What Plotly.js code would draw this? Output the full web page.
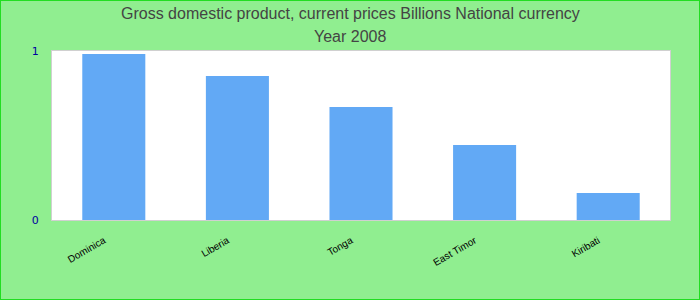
<!DOCTYPE html>
<html>
<head>
<meta charset="utf-8">
<script src="https://cdn.plot.ly/plotly-3.0.1.min.js"></script>
<style>
html,body{margin:0;padding:0;background:#90EE90;}
#chart{width:698px;height:298px;border:1px solid #22dd22;}
</style>
</head>
<body>
<div id="chart"></div>
<script>
const categories = ["Dominica", "Liberia", "Tonga", "East Timor", "Kiribati"];
const values = [0.982, 0.852, 0.669, 0.444, 0.160];
const yTickVals = [0, 1];
const yTickText = ["0", "1"];
const titleLines = ["Gross domestic product, current prices Billions National currency", "Year 2008"];

const titleFont = {family: "Liberation Sans, Arial, sans-serif", size: 16, color: "#444444"};
const W = 698, H = 298, ML = 51, MR = 29;
const titleX = (W / 2 - ML) / (W - ML - MR);

Plotly.newPlot("chart", [{
  type: "bar",
  x: categories,
  y: values,
  marker: {color: "#62a9f5"},
  hoverinfo: "x+y"
}], {
  width: W, height: H,
  paper_bgcolor: "#90EE90",
  plot_bgcolor: "#ffffff",
  margin: {l: ML, r: MR, t: 50, b: 79, pad: 0},
  bargap: 0.49,
  annotations: [
    {text: titleLines[0], xref: "paper", yref: "paper", x: titleX, y: 1, yshift: 38,
     xanchor: "center", yanchor: "middle", showarrow: false, font: titleFont},
    {text: titleLines[1], xref: "paper", yref: "paper", x: titleX, y: 1, yshift: 15,
     xanchor: "center", yanchor: "middle", showarrow: false, font: titleFont}
  ],
  xaxis: {
    tickangle: -30,
    tickfont: {family: "Liberation Sans, Arial, sans-serif", size: 10, color: "#000000"},
    showline: true, linecolor: "#d0d0d0", linewidth: 1, mirror: true,
    ticks: "", showgrid: false, zeroline: false,
    ticklabelstandoff: 10, ticklabelshift: -10
  },
  yaxis: {
    range: [0, 1],
    tickvals: yTickVals, ticktext: yTickText,
    tickfont: {family: "DejaVu Sans, sans-serif", size: 11, color: "#0000a0"},
    showline: true, linecolor: "#d0d0d0", linewidth: 1, mirror: true,
    ticks: "", showgrid: false, zeroline: false,
    ticklabelstandoff: 10
  },
  showlegend: false
}, {displayModeBar: false, staticPlot: true});
</script>
</body>
</html>
